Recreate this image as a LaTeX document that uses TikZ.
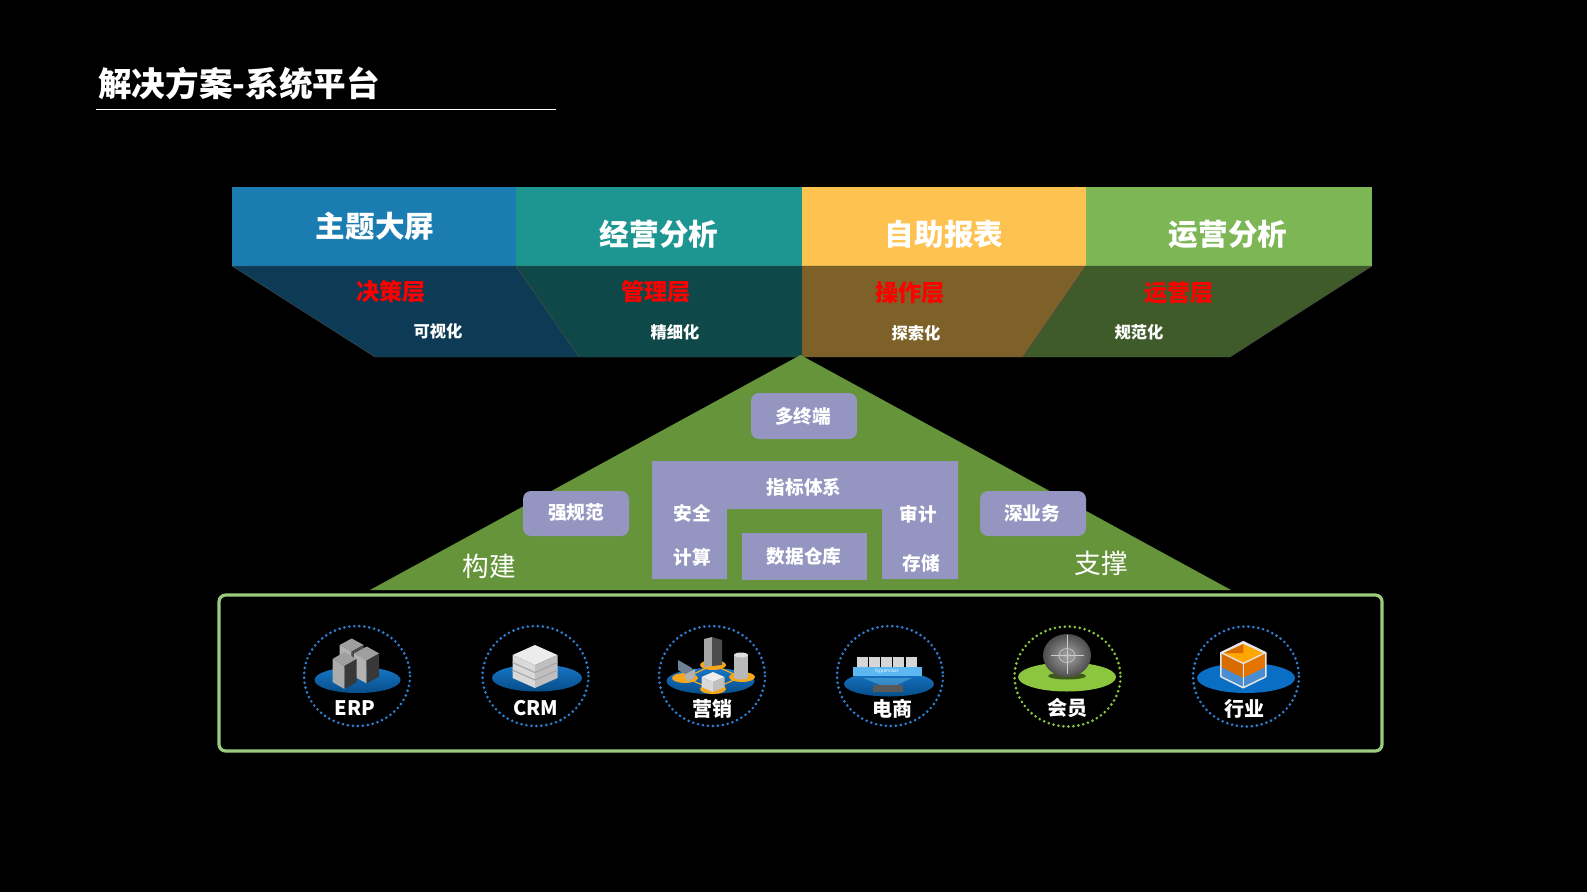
\documentclass[tikz,border=0pt]{standalone}
\usepackage{fontspec}
\setmainfont{Noto Sans CJK SC}
\usepackage{tikz}
\usetikzlibrary{shapes,positioning}

\definecolor{headA}{HTML}{1A7CB1}
\definecolor{headB}{HTML}{1D9692}
\definecolor{headC}{HTML}{FDC24F}
\definecolor{headD}{HTML}{7CB655}
\definecolor{lowA}{HTML}{0D3A55}
\definecolor{lowB}{HTML}{0F4848}
\definecolor{lowC}{HTML}{7D6128}
\definecolor{lowD}{HTML}{3F5B2A}
\definecolor{roof}{HTML}{66943A}
\definecolor{lilac}{HTML}{9595C1}
\definecolor{frameg}{HTML}{9BCB7F}
\definecolor{dotblue}{HTML}{2E80D2}
\definecolor{dotgreen}{HTML}{8CC63F}
\definecolor{discblue}{HTML}{0A6FC4}
\definecolor{ring}{HTML}{F5A81C}
\definecolor{barblue}{HTML}{5DB8F2}
\definecolor{slateblue}{HTML}{6F8197}

% isometric block: centre x, top y, half width, half depth, height, top, left, right
\newcommand{\isoblock}[8]{
  \fill[#6] (#1,#2) -- ++(#3,#4) -- ++(-#3,#4) -- ++(-#3,-#4) -- cycle;
  \fill[#7] (#1-#3,#2+#4) -- ++(#3,#4) -- ++(0,#5) -- ++(-#3,-#4) -- cycle;
  \fill[#8] (#1+#3,#2+#4) -- ++(-#3,#4) -- ++(0,#5) -- ++(#3,-#4) -- cycle;
}

\begin{document}
\begin{tikzpicture}[
        x=0.75pt, y=-0.75pt,
        every node/.style={inner sep=0pt, text=white, align=center},
        titletext/.style={font=\bfseries\fontsize{25.2pt}{28pt}\selectfont, anchor=west},
        headtext/.style={font=\bfseries\fontsize{22.2pt}{25pt}\selectfont},
        layertext/.style={font=\bfseries\fontsize{17.4pt}{20pt}\selectfont, text=red},
        hinttext/.style={font=\bfseries\fontsize{12.2pt}{14pt}\selectfont},
        parttext/.style={font=\bfseries\fontsize{14pt}{16pt}\selectfont},
        wordtext/.style={font=\fontsize{20pt}{22pt}\selectfont},
        icontext/.style={font=\bfseries\fontsize{15pt}{17pt}\selectfont},
        tagbox/.style={fill=lilac, rounded corners=6pt},
        lowface/.style={draw=black!70, line width=0.3pt},
        dotring/.style={line width=2.2pt, line cap=round, dash pattern=on 0pt off 3.75pt},
        disc/.style={top color=discblue!95!white, bottom color=discblue!70!black}
    ]

  \useasboundingbox (0,0) rectangle (1587,892);
  \fill[black] (0,0) rectangle (1587,892);

  % Title
  \node[titletext] (title) at (98,84) {解决方案-系统平台};
  \coordinate (ruleL) at (96,109);
  \coordinate (ruleR) at (556,109);
  \draw[white, line width=0.6pt] (ruleL) -- (ruleR);

  % Header row
  \fill[headA] (232,187) rectangle (516,266);
  \fill[headB] (516,187) rectangle (802,266);
  \fill[headC] (802,187) rectangle (1086,266);
  \fill[headD] (1086,187) rectangle (1372,266);
  \fill[lowA, lowface] (232,266) -- (516,266) -- (579,357) -- (375,357) -- cycle;
  \fill[lowB, lowface] (516,266) -- (802,266) -- (802,357) -- (579,357) -- cycle;
  \fill[lowC, lowface] (802,266) -- (1086,266) -- (1023,357) -- (802,357) -- cycle;
  \fill[lowD, lowface] (1086,266) -- (1372,266) -- (1230,357) -- (1023,357) -- cycle;

  \node[headtext] (headA) at (375,226) {主题大屏};
  \node[headtext] (headB) at (659,234) {经营分析};
  \node[headtext] (headC) at (944,234) {自助报表};
  \node[headtext] (headD) at (1228,234) {运营分析};
  \node[layertext] (layerA) at (391,292) {决策层};
  \node[layertext] (layerB) at (656,292) {管理层};
  \node[layertext] (layerC) at (910,293) {操作层};
  \node[layertext] (layerD) at (1179,293) {运营层};
  \node[hinttext] (hintA) at (438,331) {可视化};
  \node[hinttext] (hintB) at (675,332) {精细化};
  \node[hinttext] (hintC) at (916,333) {探索化};
  \node[hinttext] (hintD) at (1139,332) {规范化};

  % Roof
  \fill[roof] (800.5,355) -- (1231,590) -- (370,590) -- cycle;
  \fill[tagbox] (751,393) rectangle (857,439);
  \fill[tagbox] (523,491) rectangle (629,536);
  \fill[tagbox] (980,491) rectangle (1086,536);
  \fill[lilac] (652,461) -- (958,461) -- (958,579) -- (882,579) -- (882,509)
        -- (727,509) -- (727,579) -- (652,579) -- cycle;
  \fill[lilac] (742,533) rectangle (867,580);

  \node[parttext] (multi) at (803,416) {多终端};
  \node[parttext] (strict) at (576,513) {强规范};
  \node[parttext] (deep) at (1032,513) {深业务};
  \node[parttext] (index) at (804,487) {指标体系};
  \node[parttext] (safe) at (692,513) {安全};
  \node[parttext] (calc) at (692,557) {计算};
  \node[parttext] (audit) at (918,514) {审计};
  \node[parttext] (store) at (921,563) {存储};
  \node[parttext] (ware) at (804,556) {数据仓库};
  \node[wordtext] (build) at (489,566) {构建};
  \node[wordtext] (prop) at (1101,563) {支撑};

  % Frame
  \draw[frameg, line width=2.4pt, rounded corners=5pt] (219,595) rectangle (1382,751);
  \draw[dotblue, dotring] (357,676) ellipse [x radius=53, y radius=50];
  \draw[dotblue, dotring] (535.5,676) ellipse [x radius=53, y radius=50];
  \draw[dotblue, dotring] (712,676) ellipse [x radius=53, y radius=50];
  \draw[dotblue, dotring] (890,676) ellipse [x radius=53, y radius=50];
  \draw[dotgreen, dotring] (1067.5,676.5) ellipse [x radius=53, y radius=50];
  \draw[dotblue, dotring] (1246,676.5) ellipse [x radius=53, y radius=50];

  % ERP
  \shade[disc] (357.5,680) ellipse [x radius=43, y radius=13];
  \isoblock{351.7}{638.5}{12}{6.5}{14}{gray!75}{gray!60}{black!70}
  \isoblock{366.7}{646.5}{12.5}{7}{23}{gray!75}{gray!60}{black!78}
  \isoblock{344.5}{652}{12}{7}{23}{gray!75}{gray!65}{black!78}

  % CRM
  \shade[disc] (537,678) ellipse [x radius=45, y radius=13.5];
  \isoblock{535}{645}{22.5}{10}{23}{gray!15}{gray!30}{gray!50}
  \draw[gray!70, line width=0.8pt] (512.5,662.5) -- ++(22.5,10) -- ++(22.5,-10);
  \draw[gray!70, line width=0.8pt] (512.5,670) -- ++(22.5,10) -- ++(22.5,-10);

  % Marketing
  \shade[disc] (710.5,681) ellipse [x radius=44, y radius=13];
  \draw[ring, line width=0.9pt] (713,665) -- (741,677) -- (713,689) -- (685,678) -- cycle;
  \fill[ring] (713,665) ellipse [x radius=13, y radius=5];
  \fill[ring] (742,677) ellipse [x radius=13, y radius=5];
  \fill[ring] (685,678) ellipse [x radius=13, y radius=5];
  \fill[ring] (713,689) ellipse [x radius=13, y radius=5];
  \fill[gray!70] (704,639) -- (712,637) -- (712,666) -- (704,667) -- cycle;
  \fill[black!70] (712,637) -- (722,640) -- (722,665) -- (712,666) -- cycle;
  \fill[gray!55] (734,655) rectangle (748,677);
  \fill[gray!55] (741,677) ellipse [x radius=7, y radius=2.5];
  \fill[gray!25] (741,655) ellipse [x radius=7, y radius=2.5];
  \fill[slateblue] (678,660) -- (692,668) -- (692,678) -- (678,670) -- cycle;
  \fill[gray!60] (684,675) -- (695,669) -- (695,677) -- (688,682) -- cycle;
  \isoblock{713}{672}{11.5}{5}{10}{gray!15}{gray!30}{gray!50}

  % Commerce
  \shade[disc] (889,684) ellipse [x radius=45, y radius=12.5];
  \fill[cyan!50!white, opacity=0.35] (863,678) -- (912,678) -- (897,685) -- (880,685) -- cycle;
  \foreach \bx in {857.3,869.3,881.3,893.3,906} {
    \fill[gray!32] (\bx,657) rectangle ++(10.5,10);
  }
  \fill[barblue] (852.7,667) rectangle (921.7,676);
  \node[font=\fontsize{3.5pt}{4pt}\selectfont] (hyper) at (887,671.5) {hypervisor};
  \fill[black!65] (873.3,685) rectangle (903.3,691.7);

  % Member
  \fill[dotgreen] (1067,677) ellipse [x radius=49, y radius=14.5];
  \fill[black!55!dotgreen] (1067,676) ellipse [x radius=19, y radius=3.5];
  \shade[inner color=gray!70, outer color=black!70] (1067,655.5) ellipse [x radius=24, y radius=21.5];
  \draw[gray!40, line width=0.5pt] (1067,635) -- (1067,674) (1051,655) -- (1084,655);
  \draw[gray!40, line width=0.5pt] (1067,655.5) ellipse [x radius=8, y radius=7];

  % Trade
  \fill[discblue] (1246,678) ellipse [x radius=49, y radius=15];
  \isoblock{1243.3}{641.7}{22.5}{11}{24}{gray!20}{orange!85!black}{orange!90!black}
  \fill[orange!70!yellow] (1243.3,644) -- ++(19.5,9) -- ++(-19.5,9.5) -- ++(-19.5,-9.5) -- cycle;
  \fill[orange!85!black] (1243.3,644) -- ++(0,9) -- ++(-19.5,0) -- cycle;
  \fill[cyan!55!blue!75!white] (1220.8,667) -- ++(22.5,11) -- ++(22.5,-11) -- ++(0,10.5)
        -- ++(-22.5,11) -- ++(-22.5,-11) -- cycle;
  \draw[white!80!gray, line width=1.1pt, line join=round] (1243.3,641.7) -- ++(22.5,11) -- ++(0,24)
        -- ++(-22.5,11) -- ++(-22.5,-11) -- ++(0,-24) -- cycle;
  \draw[white!80!gray, line width=0.7pt] (1220.8,652.7) -- ++(22.5,11) -- ++(22.5,-11) (1243.3,663.7) -- ++(0,24);

  \node[icontext] (erp) at (355,708) {ERP};
  \node[icontext] (crm) at (536,708) {CRM};
  \node[icontext] (sale) at (712,709) {营销};
  \node[icontext] (shop) at (892,709) {电商};
  \node[icontext] (vip) at (1067,708) {会员};
  \node[icontext] (trade) at (1244,709) {行业};
\end{tikzpicture}
\end{document}
